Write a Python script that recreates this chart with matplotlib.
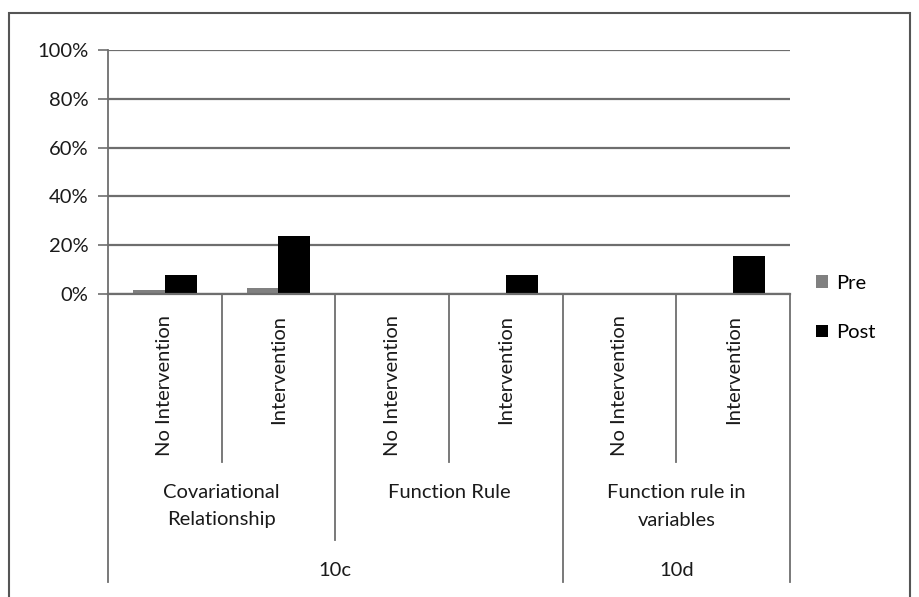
import matplotlib

matplotlib.use("Agg")
import matplotlib.pyplot as plt
import matplotlib.patches as mpatches
import matplotlib.ticker as mticker
import numpy as np

plt.rcParams["font.family"] = ["Lato", "DejaVu Sans"]

# --- data ---
sub_labels = ["No Intervention", "Intervention"] * 3
mid_labels = ["Covariational\nRelationship", "Function Rule", "Function rule in\nvariables"]
top_labels = ["10c", "10d"]
pre = [1.6, 2.5, 0, 0, 0, 0]
post = [7.7, 23.8, 0, 7.7, 0, 15.4]

W, H = 920, 597
fig = plt.figure(figsize=(W / 100, H / 100), dpi=100)

# outer frame
fig.patches.append(
    mpatches.Rectangle((9 / W, -0.01), 901 / W, (H - 13) / H + 0.01,
                       transform=fig.transFigure, fill=False,
                       edgecolor="#555555", linewidth=1.5)
)

x0, x1, y0, y100 = 108, 790, 294, 50
ax = fig.add_axes([x0 / W, (H - y0) / H, (x1 - x0) / W, (y0 - y100) / H])

n = len(sub_labels)
x = np.arange(n)
bw = 0.28
ax.bar(x - bw / 2, pre, bw, color="#808080", label="Pre", zorder=3)
ax.bar(x + bw / 2, post, bw, color="black", label="Post", zorder=3)

ax.set_xlim(-0.5, n - 0.5)
ax.set_ylim(0, 100)
ax.yaxis.set_major_locator(mticker.MultipleLocator(20))
ax.yaxis.set_major_formatter(mticker.FuncFormatter(lambda v, _: f"{v:.0f}%"))
ax.grid(axis="y", color="#6e6e6e", linewidth=1.6, zorder=0)
ax.set_xticks([])
ax.tick_params(axis="y", length=7, width=1.2, color="#6e6e6e",
               labelsize=14.5, labelcolor="#1a1a1a", pad=7)
for s in ["top", "right"]:
    ax.spines[s].set_visible(False)
ax.spines["bottom"].set_color("#6e6e6e")
ax.spines["bottom"].set_linewidth(1.6)
ax.spines["bottom"].set_zorder(4)
ax.spines["left"].set_visible(False)

# axis-below lines (x in data, y in axes units)
tr = ax.get_xaxis_transform()
ext = lambda py: (y0 - py) / (y0 - y100)
lc = dict(color="#6e6e6e", linewidth=1.3, clip_on=False, transform=tr)
ax.plot([-0.5, -0.5], [1.0, ext(582)], **lc)
ax.plot([n - 0.5, n - 0.5], [0, ext(582)], **lc)
for b in [0.5, 2.5, 4.5]:
    ax.plot([b, b], [0, ext(462)], **lc)
ax.plot([1.5, 1.5], [0, ext(540)], **lc)
ax.plot([3.5, 3.5], [0, ext(582)], **lc)

txt = dict(transform=tr, fontsize=14.5, color="#1a1a1a", clip_on=False)
for i, lab in enumerate(sub_labels):
    ax.text(i, ext(315), lab, rotation=90, ha="center", va="top", **txt)
for j, lab in enumerate(mid_labels):
    ax.text(2 * j + 0.5, ext(484), lab, ha="center", va="top",
            linespacing=1.75, **txt)
ax.text(1.5, ext(571), top_labels[0], ha="center", va="center", **txt)
ax.text(4.5, ext(571), top_labels[1], ha="center", va="center", **txt)

fig.legend(loc="center left", bbox_to_anchor=(798 / W, (H - 308) / H),
           frameon=False, fontsize=14.5, labelspacing=1.6,
           handlelength=0.6, handleheight=0.6, handletextpad=0.4)

plt.savefig("out.png", dpi=100)
